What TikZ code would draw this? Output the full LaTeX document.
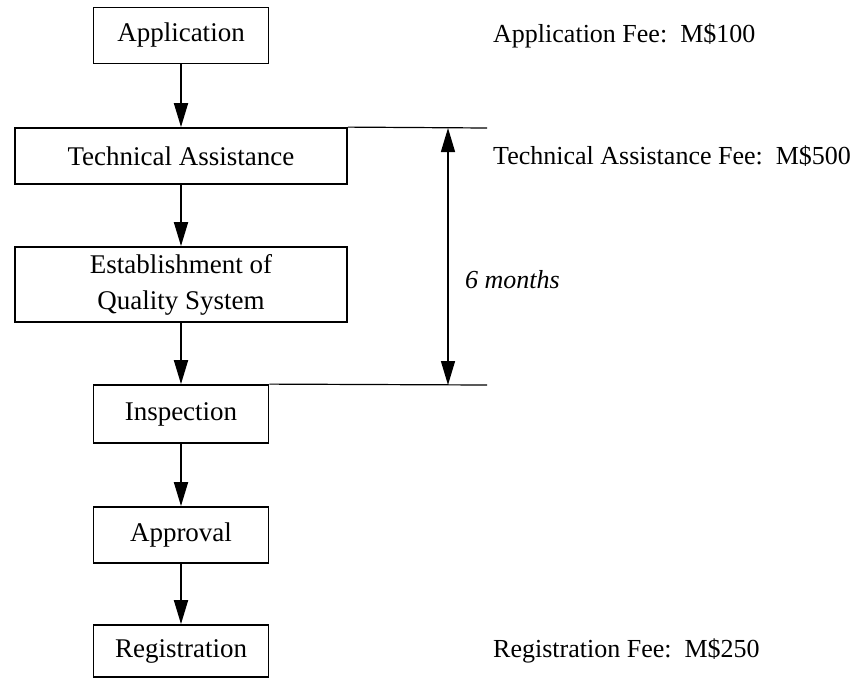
\documentclass[tikz,border=0pt]{standalone}
\usepackage{fontspec}
\setmainfont{Liberation Serif}
\usetikzlibrary{arrows.meta}
\begin{document}
\begin{tikzpicture}[x=1pt,y=-1pt,
  every node/.style={font=\fontsize{27}{36}\selectfont},
  box/.style={draw,line width=1.8pt,rectangle,inner sep=0pt,align=center,minimum width=175pt,minimum height=56pt},
  widebox/.style={box,minimum width=332pt},
  flow/.style={line width=1.8pt,-{Triangle[length=24pt,width=14pt]}},
  dim/.style={line width=1.4pt,{Triangle[length=24pt,width=14pt]}-{Triangle[length=24pt,width=14pt]}},
  guide/.style={line width=1.2pt},
  fee/.style={anchor=west,inner sep=0pt,font=\fontsize{26}{32}\selectfont}]
\useasboundingbox (0,0) rectangle (859,681);
\node[box] (app) at (181,35.5) {Application};
\node[widebox] (ta) at (181,156) {Technical Assistance};
\node[widebox,minimum height=75pt] (est) at (181,284.5) {Establishment of\\Quality System};
\node[box,minimum height=58pt] (insp) at (181,414) {Inspection};
\node[box] (appr) at (181,535) {Approval};
\node[box,minimum height=52pt] (reg) at (181,651) {Registration};
\draw[flow] (app) -- (ta);
\draw[flow] (ta) -- (est);
\draw[flow] (est) -- (insp);
\draw[flow] (insp) -- (appr);
\draw[flow] (appr) -- (reg);
\coordinate (t1) at (487,128);
\coordinate (b1) at (487,385);
\coordinate (ta0) at (448,128);
\coordinate (b0) at (448,385);
\draw[guide] (ta.north east) -- (t1);
\draw[guide] (insp.north east) -- (b1);
\draw[dim] (b0) -- (ta0);
\node[fee] (f1) at (493,36) {Application Fee:\ \ M\$100};
\node[fee] (f2) at (493,156) {Technical Assistance Fee:\ \ M\$500};
\node[fee] (f3) at (493,651) {Registration Fee:\ \ M\$250};
\node[fee] (six) at (465,280) {\itshape 6 months};
\end{tikzpicture}
\end{document}
